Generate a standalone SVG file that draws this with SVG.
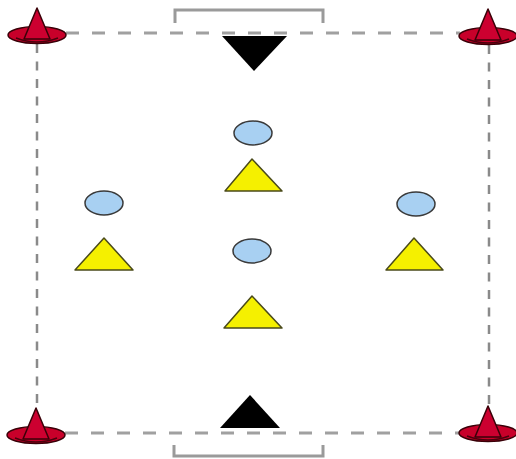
<svg xmlns="http://www.w3.org/2000/svg" width="516" height="459" viewBox="0 0 516 459">
<defs>
<style>
.dash{fill:none;stroke:#a0a0a0;stroke-width:3;stroke-dasharray:13 13}
.vdash{fill:none;stroke:#8a8a8a;stroke-width:2.5;stroke-dasharray:9 8.5}
.bracket{fill:none;stroke:#9a9a9a;stroke-width:3}
.brim{fill:#c8002a;stroke:#3a0008;stroke-width:1.5}
.body{fill:#cc0030;stroke:#3a0008;stroke-width:1.5;stroke-linejoin:round}
.ball{fill:#a8d0f2;stroke:#3a3a3a;stroke-width:1.5}
.yel{fill:#f5f000;stroke:#4a4a1a;stroke-width:1.5;stroke-linejoin:round}
.blk{fill:#000}
</style>
<g id="cone">
<ellipse class="brim" cx="0" cy="0" rx="29" ry="8.5"/>
<path class="body" d="M-13 4 L0 -27 L13 4 Z"/>
<path d="M-21 3 Q0 11 21 3" fill="none" stroke="#4a000c" stroke-width="1.5"/>
</g>
</defs>
<g id="connectors">
<path class="dash" d="M66 33 H460"/>
<path class="dash" d="M65 433 H460"/>
<path class="vdash" d="M37 44 V425"/>
<path class="vdash" d="M489 45 V420"/>
</g>
<g id="top-goal">
<path class="bracket" d="M175 23 V10 H323 V23"/>
</g>
<g id="bottom-goal">
<path class="bracket" d="M174 445 V456 H323 V445"/>
</g>
<g id="cone-tl"><use href="#cone" x="37" y="35"/></g>
<g id="cone-tr"><use href="#cone" x="488" y="36"/></g>
<g id="cone-bl"><use href="#cone" x="36" y="435"/></g>
<g id="cone-br"><use href="#cone" x="488" y="433"/></g>
<g id="keeper-top"><path class="blk" d="M222 36 H287 L254 71 Z"/></g>
<g id="keeper-bottom"><path class="blk" d="M220 428 L250 395 L280 428 Z"/></g>
<g id="ball-left"><ellipse class="ball" cx="104" cy="203" rx="19" ry="12"/></g>
<g id="player-left"><path class="yel" d="M75 270 L104 238 L133 270 Z"/></g>
<g id="ball-mid-top"><ellipse class="ball" cx="253" cy="133" rx="19" ry="12"/></g>
<g id="player-mid-top"><path class="yel" d="M225 191 L252 159 L282 191 Z"/></g>
<g id="ball-mid"><ellipse class="ball" cx="252" cy="251" rx="19" ry="12"/></g>
<g id="player-mid"><path class="yel" d="M224 328 L252 296 L282 328 Z"/></g>
<g id="ball-right"><ellipse class="ball" cx="416" cy="204" rx="19" ry="12"/></g>
<g id="player-right"><path class="yel" d="M386 270 L414 238 L443 270 Z"/></g>
</svg>
